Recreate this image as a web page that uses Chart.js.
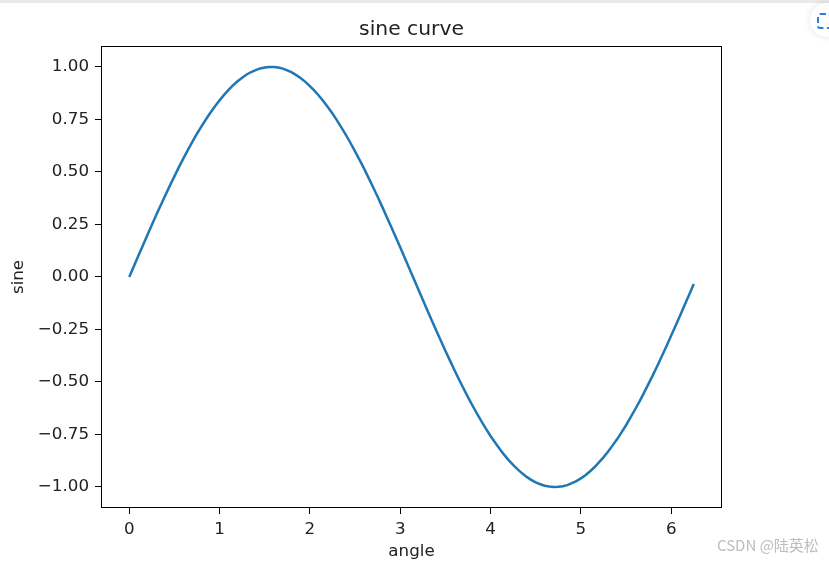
<!DOCTYPE html>
<html>
<head>
<meta charset="utf-8">
<script src="https://cdn.jsdelivr.net/npm/chart.js@4/dist/chart.umd.min.js"></script>
<style>
  html, body { margin: 0; padding: 0; background: #fff; }
  #wrap { position: relative; width: 829px; height: 561px; overflow: hidden; }
  #topbar { position: absolute; left: 0; top: 0; width: 829px; height: 3px; background: #e9e9e9; }
  #icon { position: absolute; left: 810px; top: 3px; width: 34px; height: 34px; border-radius: 50%;
          background: #fff; box-shadow: 0 0 6px rgba(0,0,0,0.12); }
  #icon span { position: absolute; left: 7px; top: 10px; width: 10px; height: 12px; border: 2px dashed #2f7be0; border-radius: 3px; }
  #wm { position: absolute; left: 717px; top: 534px; font-family: "Noto Sans CJK SC", "DejaVu Sans", sans-serif;
        font-size: 15px; color: #bdbdbd; white-space: nowrap; }
</style>
</head>
<body>
<div id="wrap">
  <canvas id="c" width="829" height="561"></canvas>
  <div id="topbar"></div>
  <div id="icon"><span></span></div>
  <div id="wm">CSDN @陆英松</div>
</div>
<script>
// angle values (x) and sine values (y)
const angles = [
  0.00,0.05,0.10,0.15,0.20,0.25,0.30,0.35,0.40,0.45,0.50,0.55,0.60,0.65,0.70,0.75,0.80,0.85,0.90,0.95,
  1.00,1.05,1.10,1.15,1.20,1.25,1.30,1.35,1.40,1.45,1.50,1.55,1.60,1.65,1.70,1.75,1.80,1.85,1.90,1.95,
  2.00,2.05,2.10,2.15,2.20,2.25,2.30,2.35,2.40,2.45,2.50,2.55,2.60,2.65,2.70,2.75,2.80,2.85,2.90,2.95,
  3.00,3.05,3.10,3.15,3.20,3.25,3.30,3.35,3.40,3.45,3.50,3.55,3.60,3.65,3.70,3.75,3.80,3.85,3.90,3.95,
  4.00,4.05,4.10,4.15,4.20,4.25,4.30,4.35,4.40,4.45,4.50,4.55,4.60,4.65,4.70,4.75,4.80,4.85,4.90,4.95,
  5.00,5.05,5.10,5.15,5.20,5.25,5.30,5.35,5.40,5.45,5.50,5.55,5.60,5.65,5.70,5.75,5.80,5.85,5.90,5.95,
  6.00,6.05,6.10,6.15,6.20,6.25
];
const sineValues = [
  0.000,0.050,0.100,0.149,0.199,0.247,0.296,0.343,0.389,0.435,0.479,0.523,0.565,0.605,0.644,0.682,0.717,0.751,0.783,0.813,
  0.841,0.867,0.891,0.913,0.932,0.949,0.964,0.976,0.985,0.993,0.997,1.000,1.000,0.997,0.992,0.984,0.974,0.961,0.946,0.929,
  0.909,0.887,0.863,0.837,0.808,0.778,0.746,0.711,0.675,0.638,0.598,0.558,0.516,0.472,0.427,0.382,0.335,0.287,0.239,0.190,
  0.141,0.091,0.042,-0.008,-0.058,-0.108,-0.158,-0.207,-0.256,-0.304,-0.351,-0.397,-0.443,-0.487,-0.530,-0.572,-0.612,-0.651,-0.688,-0.723,
  -0.757,-0.788,-0.818,-0.846,-0.872,-0.895,-0.916,-0.935,-0.952,-0.966,-0.978,-0.987,-0.994,-0.998,-1.000,-0.999,-0.996,-0.991,-0.982,-0.972,
  -0.959,-0.944,-0.926,-0.906,-0.883,-0.859,-0.832,-0.803,-0.773,-0.740,-0.706,-0.669,-0.631,-0.592,-0.551,-0.508,-0.465,-0.420,-0.374,-0.327,
  -0.279,-0.231,-0.182,-0.132,-0.083,-0.033
];
const xTicks = [0, 1, 2, 3, 4, 5, 6];
const yTicks = [-1.00, -0.75, -0.50, -0.25, 0.00, 0.25, 0.50, 0.75, 1.00];
const chartTitle = 'sine curve';
const xLabel = 'angle';
const yLabel = 'sine';

const FONT = '"DejaVu Sans", sans-serif';
const TXT = '#222';

const frame = {
  id: 'frame',
  afterDatasetsDraw(chart) {
    const a = chart.chartArea, ctx = chart.ctx;
    const l = Math.round(a.left) + 0.5, t = Math.round(a.top) + 0.5;
    const r = Math.round(a.right) - 0.5, b = Math.round(a.bottom) - 0.5;
    ctx.save();
    ctx.strokeStyle = '#000';
    ctx.lineWidth = 1;
    ctx.strokeRect(l, t, r - l, b - t);
    ctx.restore();
  }
};

new Chart(document.getElementById('c'), {
  type: 'line',
  data: {
    datasets: [{
      data: angles.map((x, i) => ({ x: x, y: sineValues[i] })),
      borderColor: '#1f77b4',
      borderWidth: 2.5,
      pointRadius: 0,
      tension: 0,
      fill: false
    }]
  },
  options: {
    responsive: false,
    animation: false,
    devicePixelRatio: 1,
    layout: { padding: { left: 0, right: 107, top: 0, bottom: 0 } },
    plugins: {
      legend: { display: false },
      tooltip: { enabled: false },
      title: {
        display: true,
        text: chartTitle,
        fullSize: false,
        color: TXT,
        font: { family: FONT, size: 20.3, weight: 'normal', lineHeight: 1.2 },
        padding: { top: 17.6, bottom: 4.0 }
      }
    },
    scales: {
      x: {
        type: 'linear',
        min: -0.3125,
        max: 6.5625,
        afterBuildTicks: s => { s.ticks = xTicks.map(v => ({ value: v })); },
        afterFit: s => { s.height = 53; },
        grid: { drawOnChartArea: false, tickLength: 6, color: '#000', tickColor: '#000' },
        border: { display: false },
        ticks: { color: TXT, font: { family: FONT, size: 16.7 }, padding: 6, maxRotation: 0,
                 callback: v => String(v) },
        title: { display: true, text: xLabel, color: TXT, font: { family: FONT, size: 16.7, lineHeight: 1.2 },
                 padding: { top: 0, bottom: -1 } }
      },
      y: {
        type: 'linear',
        min: -1.1,
        max: 1.1,
        afterBuildTicks: s => { s.ticks = yTicks.map(v => ({ value: v })); },
        afterFit: s => { s.width = 101; },
        grid: { drawOnChartArea: false, tickLength: 6, color: '#000', tickColor: '#000' },
        border: { display: false },
        ticks: { color: TXT, font: { family: FONT, size: 16.7 }, padding: 6,
                 callback: v => v.toFixed(2).replace('-', '\u2212') },
        title: { display: true, text: yLabel, color: TXT, font: { family: FONT, size: 16.7, lineHeight: 1.2 },
                 padding: { top: 8.5, bottom: 0 } }
      }
    }
  },
  plugins: [frame]
});
</script>
</body>
</html>
